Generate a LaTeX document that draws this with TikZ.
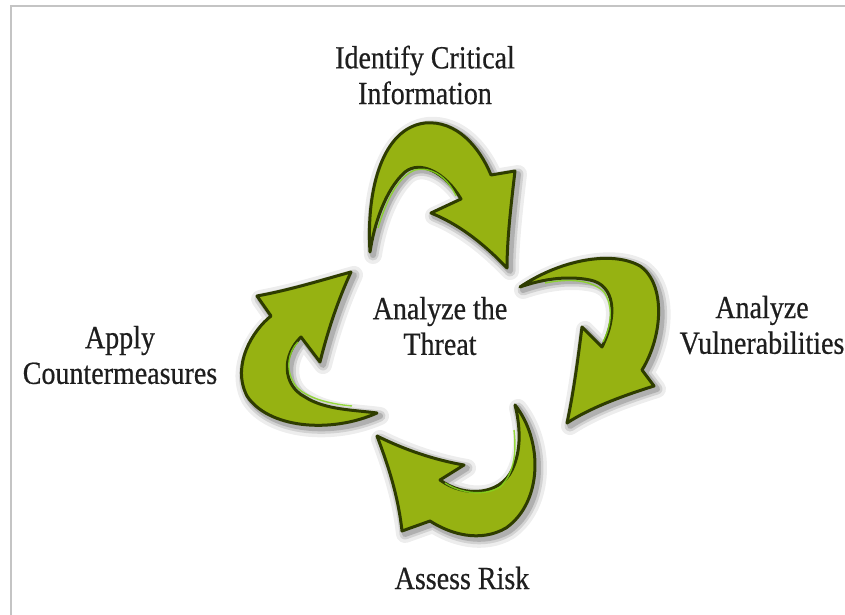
\documentclass[tikz,border=0pt]{standalone}
\usepackage{fontspec}
\setmainfont{Liberation Serif}
\newfontfamily\lblfont[FakeBold=0.6]{Liberation Serif}
\definecolor{leaf}{HTML}{96B212}
\definecolor{leafdark}{HTML}{2E3C00}
\definecolor{leaflight}{HTML}{86D61E}
\definecolor{frame}{HTML}{C4C4C4}
\definecolor{ink}{HTML}{1E1E1E}
\def\arrowtop{(370,252) .. controls (366,188) and (383,128) .. (425,123) .. controls (457,120) and (480,148) .. (491,175) -- (515,171) .. controls (511,205) and (507,240) .. (507,268) .. controls (482,242) and (458,224) .. (431,213) -- (461,199) .. controls (445,172) and (420,160) .. (405,172) .. controls (385,190) and (374,225) .. (370,252) -- cycle}
\def\arrowright{(520,287) .. controls (560,260) and (612,250) .. (640,266) .. controls (666,284) and (663,336) .. (642,370) -- (654,386) .. controls (622,396) and (590,408) .. (567,423) .. controls (574,390) and (578,358) .. (582,327) -- (602,347) .. controls (618,315) and (615,285) .. (590,280) .. controls (565,275) and (540,280) .. (520,287) -- cycle}
\def\arrowbottom{(515,405) .. controls (543,440) and (543,502) .. (506,528) .. controls (480,543) and (450,534) .. (430,521) -- (402,531) .. controls (398,495) and (388,465) .. (377,436) .. controls (405,450) and (435,460) .. (464,465) -- (440,480) .. controls (465,498) and (500,495) .. (512,470) .. controls (522,450) and (520,425) .. (515,405) -- cycle}
\def\arrowleft{(377,413) .. controls (330,434) and (268,428) .. (247,396) .. controls (231,365) and (253,330) .. (271,316) -- (257,296) .. controls (290,290) and (322,280) .. (351,272) .. controls (338,300) and (328,330) .. (320,362) -- (301,337) .. controls (282,355) and (282,385) .. (305,397) .. controls (325,410) and (355,410) .. (377,413) -- cycle}
\tikzset{
  lbl/.style={font=\lblfont\fontsize{28}{31}\selectfont, text=ink, align=center, inner sep=0pt, yscale=1.15, transform shape},
  glowA/.style={draw=black, line width=18pt, opacity=0.07, line join=round},
  glowB/.style={draw=black, line width=11pt, opacity=0.11, line join=round},
  glowC/.style={draw=black, line width=6pt, opacity=0.16, line join=round},
  leafbody/.style={fill=leaf, draw=leafdark, line width=3pt, line join=round},
  leafshine/.style={draw=leaflight, line width=1.4pt, opacity=0.85},
}
\begin{document}
\begin{tikzpicture}[x=1pt, y=-1pt]
\useasboundingbox (0,0) rectangle (845,615);
\fill[white] (0,0) rectangle (845,615);
\draw[frame, line width=1.3pt] (11,615) -- (11,6) -- (845,6);
% shadows
\foreach \p in {\arrowtop,\arrowright,\arrowbottom,\arrowleft}{
  \begin{scope}[shift={(3,3)}]
    \path[glowA] \p;
    \path[glowB] \p;
    \path[glowC] \p;
  \end{scope}
}
% bodies
\path[leafbody] \arrowtop;
\path[leafbody] \arrowright;
\path[leafbody] \arrowbottom;
\path[leafbody] \arrowleft;
% highlights along the inner edges
\draw[leafshine] (378,228) .. controls (388,195) and (400,176) .. (415,170) .. controls (432,166) and (448,178) .. (456,196);
\draw[leafshine] (545,283) .. controls (570,278) and (592,280) .. (604,292) .. controls (613,305) and (612,325) .. (603,342);
\draw[leafshine] (514,430) .. controls (517,455) and (513,475) .. (500,487) .. controls (485,496) and (462,494) .. (445,483);
\draw[leafshine] (352,406) .. controls (330,404) and (305,398) .. (295,385) .. controls (285,370) and (288,352) .. (298,342);
% labels
\node[lbl] (identify) at (425,75) {Identify Critical\\Information};
\node[lbl] (threat) at (440,326) {Analyze the\\Threat};
\node[lbl] (vuln) at (762,325) {Analyze\\Vulnerabilities};
\node[lbl] (counter) at (120,355) {Apply\\Countermeasures};
\node[lbl] (risk) at (462,578) {Assess Risk};
\end{tikzpicture}
\end{document}
